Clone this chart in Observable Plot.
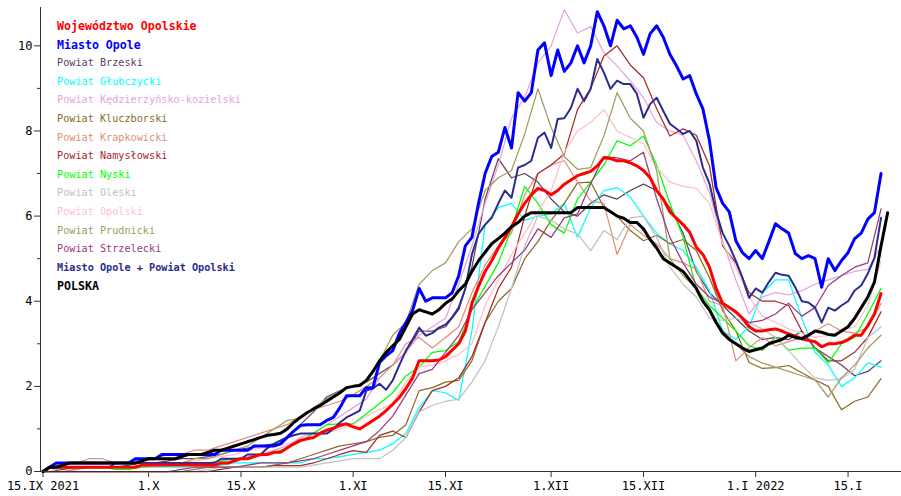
<!DOCTYPE html>
<html>
<head>
<meta charset="utf-8">
<script src="https://cdn.jsdelivr.net/npm/d3@7"></script>
<script src="https://cdn.jsdelivr.net/npm/@observablehq/plot@0.6"></script>
<style>
  body { margin: 0; background: #fff; }
  #wrap { position: relative; width: 901px; height: 496px; }
  #legend { position: absolute; left: 57px; top: 17px; font-family: "DejaVu Sans Mono", monospace; }
  #legend div { height: 18.6px; line-height: 18.6px; font-size: 10.2px; white-space: nowrap; }
  #legend div.big { font-size: 11.6px; font-weight: bold; }
  #legend div.bold { font-weight: bold; }
</style>
</head>
<body>
<div id="wrap"><div id="chart"></div><div id="legend"></div></div>
<script>
// Series labels and colours (legend order)
const seriesNames = [
  "Województwo Opolskie", "Miasto Opole", "Powiat Brzeski", "Powiat Głubczycki",
  "Powiat Kędzierzyńsko-kozielski", "Powiat Kluczborski", "Powiat Krapkowicki",
  "Powiat Namysłowski", "Powiat Nyski", "Powiat Oleski", "Powiat Opolski",
  "Powiat Prudnicki", "Powiat Strzelecki", "Miasto Opole + Powiat Opolski", "POLSKA"
];
const seriesColors = [
  "#ff0000", "#0000ff", "#604060", "#00ffff", "#e4a4e4", "#8c6a26", "#e0907a",
  "#a52a2a", "#00ff00", "#c0c0c0", "#ffbfca", "#a09c62", "#9a3a80", "#2c2c8c", "#000000"
];

// X axis ticks
const xTickDates = ["2021-09-15", "2021-10-01", "2021-10-15", "2021-11-01", "2021-11-15",
                    "2021-12-01", "2021-12-15", "2022-01-01", "2022-01-15"];
const xTickLabels = ["15.IX 2021", "1.X", "15.X", "1.XI", "15.XI", "1.XII", "15.XII", "1.I 2022", "15.I"];
const yMajorTicks = [0, 2, 4, 6, 8, 10];
const yMinorTicks = [1, 3, 5, 7, 9];

// Daily series, day 0 = 15.IX 2021
const wojOpolskie = [0,
  0.1,0.1,0.1,0.1,0.1,0.1,0.1,0.1,0.1,0.1,0.1,0.1,0.1,0.1,
  0.15,0.15,0.15,0.15,0.15,0.15,0.15,0.15,0.15,0.15,0.15,0.15,
  0.2,0.2,0.25,0.3,0.3,0.35,0.4,0.4,0.45,
  0.45,0.55,0.65,0.73,0.77,0.8,0.9,0.97,1.02,1.08,
  1.12,1.05,1.0,1.1,1.2,1.3,1.43,1.58,1.74,1.95,
  2.2,2.6,2.6,2.6,2.62,2.7,2.85,3.0,3.3,3.95,
  4.35,4.7,4.95,5.25,5.5,5.75,6.05,6.3,6.5,6.65,
  6.6,6.5,6.6,6.75,6.85,6.95,7.0,7.05,7.18,7.37,
  7.35,7.3,7.3,7.25,7.18,7.07,6.9,6.6,6.4,6.1,
  5.95,5.8,5.62,5.27,5.1,4.8,4.3,3.95,3.85,3.75,
  3.6,3.4,3.3,3.3,3.33,3.35,3.3,3.23,3.18,3.12,
  3.08,3.05,2.93,3.0,3.0,3.03,3.1,3.2,3.2,3.43,
  3.7,4.18];

const miastoOpole = [
  0,0.1,0.2,0.2,0.2,0.2,0.2,0.2,0.2,0.2,
  0.2,0.2,0.2,0.2,0.3,0.3,0.3,0.3,0.4,0.4,
  0.4,0.4,0.4,0.4,0.4,0.4,0.4,0.5,0.5,0.5,
  0.5,0.5,0.6,0.6,0.6,0.6,0.65,0.8,0.95,1.08,
  1.1,1.1,1.1,1.2,1.27,1.5,1.78,1.78,1.78,1.97,
  1.97,2.56,2.72,2.84,3.24,3.5,3.78,4.3,4.0,4.08,
  4.08,4.08,4.2,4.6,5.3,5.5,6.3,7.0,7.4,7.5,
  8.08,7.6,8.9,8.7,8.9,9.9,10.07,9.3,9.9,9.4,
  9.6,10.0,9.6,10.0,10.8,10.47,10.0,10.6,10.4,10.47,
  10.2,9.8,10.28,10.47,10.2,9.8,9.53,9.22,9.3,8.87,
  8.52,7.77,6.67,6.3,6.1,5.42,5.14,5.0,5.19,5.0,
  5.4,5.82,5.7,5.6,5.12,5.0,5.07,5.0,4.33,5.0,
  4.72,4.95,5.14,5.47,5.6,5.93,6.08,7.0];

const miastoPowiatOpolski = [
  0,0.1,0.1,0.1,0.1,0.1,0.1,0.1,0.1,0.1,
  0.1,0.2,0.2,0.2,0.2,0.2,0.2,0.2,0.2,0.2,
  0.2,0.2,0.2,0.2,0.2,0.2,0.2,0.3,0.3,0.3,
  0.3,0.4,0.4,0.4,0.55,0.65,0.73,0.8,0.85,0.89,
  0.89,0.89,0.89,0.89,1.0,1.15,1.27,1.35,1.43,1.9,
  1.95,2.06,1.92,2.14,2.5,2.84,3.1,3.38,3.19,3.25,
  3.38,3.45,3.62,3.85,4.3,5.1,5.58,5.8,5.96,6.3,
  6.6,6.43,7.14,7.2,7.3,7.84,7.96,7.6,8.28,8.3,
  8.54,8.99,8.7,8.99,9.69,9.37,8.99,9.18,9.1,9.1,
  8.87,8.31,8.63,8.78,8.47,8.17,8.05,7.93,8.0,7.77,
  7.14,6.76,6.1,5.6,5.3,4.95,4.55,4.08,4.3,4.2,
  4.45,4.67,4.62,4.6,4.33,4.0,3.97,3.85,3.5,3.85,
  3.78,3.9,4.0,4.25,4.37,4.65,5.02,5.96];

const polska = [
  0,0.1,0.1,0.15,0.2,0.2,0.2,0.2,0.2,0.2,
  0.2,0.2,0.2,0.2,0.2,0.25,0.3,0.3,0.3,0.3,
  0.3,0.35,0.4,0.4,0.4,0.45,0.5,0.5,0.55,0.6,
  0.65,0.7,0.75,0.8,0.85,0.87,0.9,1.0,1.15,1.27,
  1.38,1.47,1.55,1.65,1.75,1.85,1.97,2.0,2.02,2.14,
  2.35,2.6,2.8,2.95,3.1,3.4,3.7,3.8,3.75,3.7,
  3.8,3.95,4.05,4.25,4.4,4.7,4.95,5.15,5.35,5.47,
  5.6,5.75,5.85,6.0,6.08,6.08,6.08,6.08,6.08,6.08,
  6.08,6.2,6.2,6.2,6.2,6.2,6.1,6.0,5.95,5.85,
  5.85,5.7,5.45,5.25,5.0,4.9,4.8,4.7,4.5,4.3,
  4.0,3.8,3.5,3.25,3.1,3.0,2.9,2.82,2.86,2.9,
  3.0,3.05,3.1,3.2,3.15,3.12,3.2,3.3,3.27,3.22,
  3.2,3.3,3.4,3.6,3.85,4.1,4.45,5.3,6.08];

// Powiat series, sampled on day 0 and every odd day 1..127
const powiatBrzeski = [0,
  0,0.05,0.1,0.1,0.1,0.1,0.15,0.2,0.2,0.25,
  0.3,0.3,0.35,0.4,0.5,0.55,0.6,0.65,0.8,1.1,
  1.4,1.75,1.9,2.0,2.1,2.3,2.5,2.8,3.3,3.3,
  3.4,3.8,4.8,6.4,7.35,6.9,7.0,6.8,6.4,6.1,
  6.0,6.3,6.5,6.4,6.6,6.75,6.6,6.2,5.6,4.7,
  4.2,3.9,3.6,3.3,3.1,3.15,3.1,3.3,2.9,2.7,
  2.5,2.25,2.35,2.6];

const powiatGlubczycki = [0,
  0,0.1,0.1,0.1,0.1,0.1,0.1,0.1,0.1,0.1,
  0.1,0.1,0.1,0.15,0.2,0.2,0.2,0.2,0.2,0.2,
  0.3,0.3,0.35,0.4,0.45,0.5,0.65,0.9,1.5,1.9,
  1.85,1.67,3.3,5.8,6.2,6.3,5.9,6.0,6.05,6.3,
  5.5,6.2,6.6,6.67,6.45,6.0,5.6,5.35,5.19,4.8,
  4.25,3.3,3.1,3.4,4.2,4.5,4.5,3.6,2.8,2.5,
  2.0,2.2,2.55,2.45];

const powiatKedzierzynsko = [0,
  0,0,0.05,0.1,0.1,0.1,0.1,0.1,0.1,0.15,
  0.2,0.2,0.2,0.25,0.3,0.35,0.4,0.5,0.6,0.8,
  0.9,1.1,1.3,1.5,1.7,2.2,2.5,2.8,3.2,3.4,
  3.6,4.4,5.3,6.3,7.2,8.3,8.8,9.6,10.0,10.85,
  10.3,10.45,9.84,9.53,9.18,8.78,8.2,8.0,7.9,7.3,
  6.55,5.4,4.5,3.7,4.1,4.2,4.15,4.25,4.4,4.5,
  4.6,4.7,4.75,5.3];

const powiatKluczborski = [0,
  0,0,0,0,0,0,0,0,0,0,
  0,0.05,0.1,0.1,0.1,0.1,0.1,0.15,0.2,0.3,
  0.4,0.5,0.6,0.65,0.7,0.8,0.85,1.1,1.9,1.97,
  2.1,2.14,2.6,3.5,4.0,4.3,5.0,5.4,5.9,6.3,
  6.78,6.8,6.2,6.0,5.66,5.42,5.55,5.35,5.45,5.19,
  4.55,3.78,3.3,2.56,2.42,2.44,2.49,2.32,2.15,2.0,
  1.45,1.65,1.75,2.18];

const powiatKrapkowicki = [0,
  0.1,0.2,0.2,0.3,0.3,0.2,0.2,0.3,0.3,0.4,
  0.4,0.5,0.5,0.6,0.7,0.8,0.9,1.0,1.1,1.3,
  1.45,1.55,1.65,1.8,2.0,2.2,2.5,3.0,3.15,2.9,
  3.15,3.4,4.2,4.85,5.3,5.6,6.5,7.0,7.2,7.3,
  6.8,6.36,6.3,5.1,5.8,5.55,5.35,5.0,4.9,4.75,
  4.0,3.9,2.6,2.91,3.15,2.95,3.05,3.15,3.3,3.47,
  3.3,3.25,3.38,3.95];

const powiatNamyslowski = [0,
  0,0,0,0,0,0,0,0,0,0,
  0,0,0,0.05,0.1,0.1,0.1,0.14,0.14,0.14,
  0.2,0.3,0.4,0.49,0.45,0.85,0.95,0.8,1.4,1.9,
  2.0,2.2,2.7,3.5,4.3,4.8,6.0,7.0,7.2,7.46,
  8.5,9.0,9.76,10.0,9.55,9.25,8.52,7.88,8.05,7.9,
  7.18,5.3,4.9,4.2,4.0,4.0,3.9,3.3,2.9,2.6,
  2.6,2.8,3.15,3.75];

const powiatNyski = [0,
  0,0.1,0.1,0.1,0.1,0.05,0.05,0.1,0.15,0.2,
  0.2,0.2,0.2,0.25,0.3,0.3,0.4,0.45,0.55,0.7,
  0.9,1.1,1.12,1.12,1.35,1.6,1.85,2.25,2.45,2.8,
  2.84,3.05,3.8,4.35,4.9,5.7,6.7,6.3,5.8,5.6,
  6.4,6.8,7.2,7.77,7.65,7.88,7.2,6.3,5.5,4.3,
  3.9,3.6,3.3,2.95,2.85,3.15,2.85,2.9,2.9,2.55,
  3.0,3.15,3.7,4.3];

const powiatOleski = [0,
  0,0,0,0,0,0,0,0,0,0,
  0,0,0.05,0.1,0.1,0.1,0.1,0.1,0.1,0.1,
  0.15,0.2,0.25,0.3,0.3,0.3,0.5,0.8,1.4,1.55,
  1.65,1.7,2.1,2.6,3.4,4.3,5.3,6.0,5.9,5.7,
  5.58,5.19,5.66,5.45,5.96,6.0,5.5,4.8,4.4,4.1,
  3.6,3.55,3.6,3.5,3.35,3.15,2.84,2.5,2.2,2.14,
  2.18,2.4,3.15,3.4];

const powiatOpolski = [0,
  0,0.1,0.1,0.1,0.1,0.1,0.1,0.15,0.2,0.2,
  0.2,0.25,0.3,0.35,0.4,0.5,0.55,0.6,0.65,0.72,
  0.8,0.9,1.0,1.1,1.3,1.45,1.6,2.1,2.45,2.5,
  2.6,2.75,3.0,3.9,4.5,5.1,5.6,6.1,6.6,7.5,
  8.0,8.2,8.5,8.0,7.85,7.7,7.14,6.8,6.7,6.65,
  6.3,5.35,4.8,4.1,3.65,3.5,3.35,3.25,3.15,3.2,
  3.3,3.4,3.9,4.95];

const powiatPrudnicki = [0,
  0,0,0.05,0.1,0.1,0.1,0.1,0.15,0.2,0.2,
  0.2,0.3,0.3,0.4,0.5,0.6,0.8,1.0,1.2,1.25,
  1.5,1.7,1.9,2.0,2.1,2.6,3.2,3.5,4.4,4.72,
  4.9,5.4,5.7,6.6,6.9,7.07,7.93,8.99,8.08,7.4,
  7.1,7.14,7.88,8.9,8.3,8.0,7.07,5.0,4.6,4.3,
  3.8,3.3,3.0,2.7,2.55,2.45,2.35,2.25,2.15,1.75,
  2.2,2.5,2.9,3.2];

const powiatStrzelecki = [0,
  0,0,0,0,0,0,0,0,0,0,
  0.05,0.1,0.1,0.1,0.1,0.15,0.2,0.2,0.2,0.25,
  0.3,0.4,0.5,0.6,0.7,0.96,1.3,1.8,2.3,2.4,
  2.8,3.2,3.8,4.2,4.6,4.9,5.2,5.7,5.5,5.96,
  6.05,6.76,7.4,7.37,7.3,7.5,6.4,5.5,4.9,4.4,
  4.1,3.95,3.75,3.5,3.55,3.7,3.95,3.65,3.85,4.37,
  4.6,4.8,4.9,6.17];

const DAY = 864e5;
const start = Date.UTC(2021, 8, 15);
const dailyDays = d3.range(0, 129);
const oddDays = [0, ...d3.range(1, 128, 2)];

const seriesValues = [
  [wojOpolskie, dailyDays], [miastoOpole, dailyDays], [powiatBrzeski, oddDays],
  [powiatGlubczycki, oddDays], [powiatKedzierzynsko, oddDays], [powiatKluczborski, oddDays],
  [powiatKrapkowicki, oddDays], [powiatNamyslowski, oddDays], [powiatNyski, oddDays],
  [powiatOleski, oddDays], [powiatOpolski, oddDays], [powiatPrudnicki, oddDays],
  [powiatStrzelecki, oddDays], [miastoPowiatOpolski, dailyDays], [polska, dailyDays]
];

const rowsOf = i => {
  const [values, days] = seriesValues[i];
  return values.map((v, k) => ({ series: seriesNames[i], date: new Date(start + days[k] * DAY), value: v }));
};

// drawing order: thin powiat lines first, thick summary lines on top
const drawOrder = [2, 3, 4, 5, 6, 7, 8, 9, 10, 11, 12, 13, 0, 1, 14];
const widthOf = i => (i === 0 || i === 1 || i === 14) ? 3 : (i === 13 ? 2 : 1.25);

const labelByTime = new Map(xTickDates.map((d, i) => [+new Date(d), xTickLabels[i]]));
const x0 = new Date(start - 0.38 * DAY);
const x1 = new Date(start + 130.1 * DAY);

const chart = Plot.plot({
  width: 901,
  height: 496,
  marginLeft: 40,
  marginRight: 0,
  marginTop: 7,
  marginBottom: 25,
  style: { fontFamily: "'DejaVu Sans Mono', monospace", fontSize: "12px", color: "#000", background: "#fff" },
  x: { type: "utc", domain: [x0, x1] },
  y: { domain: [0, 10.9] },
  marks: [
    Plot.axisX({
      ticks: xTickDates.map(d => new Date(d)),
      tickFormat: d => labelByTime.get(+d),
      tickSize: 6, tickPadding: 4, label: null, stroke: "#333"
    }),
    Plot.axisY({ ticks: yMajorTicks, tickSize: 6, tickPadding: 2, label: null, stroke: "#333" }),
    Plot.axisY({ ticks: yMinorTicks, tickSize: 3, tickFormat: () => "", label: null, stroke: "#333" }),
    ...drawOrder.map(i => Plot.line(rowsOf(i), {
      x: "date", y: "value",
      stroke: seriesColors[i], strokeWidth: widthOf(i),
      strokeLinejoin: "round", strokeLinecap: "round"
    })),
    Plot.ruleY([0], { stroke: "#333" }),
    Plot.ruleX([x0], { stroke: "#333" })
  ]
});
document.getElementById("chart").appendChild(chart);

// legend in the upper-left corner of the plot
const legend = document.getElementById("legend");
seriesNames.forEach((name, i) => {
  const div = document.createElement("div");
  div.textContent = name;
  div.style.color = seriesColors[i];
  if (i === 0 || i === 1 || i === 14) div.className = "big";
  else if (i === 13) div.className = "bold";
  legend.appendChild(div);
});
</script>
</body>
</html>
